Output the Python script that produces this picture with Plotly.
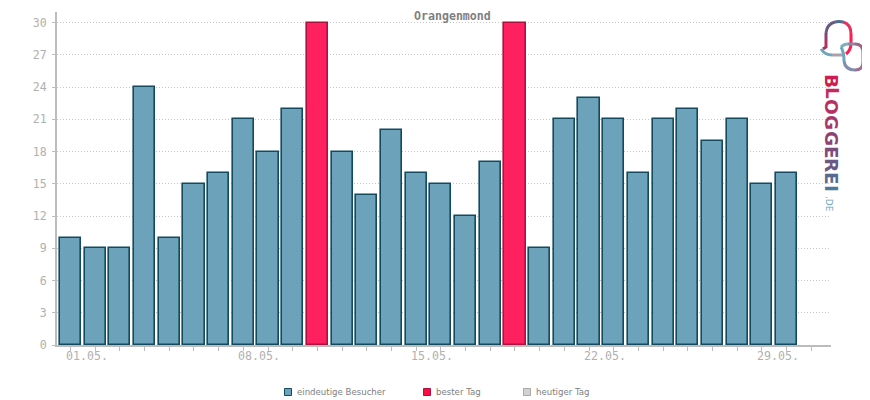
import plotly.graph_objects as go

# Besucher pro Tag
tage = list(range(30))
besucher = [10, 9, 9, 24, 10, 15, 16, 21, 18, 22, 30, 18, 14, 20, 16,
            15, 12, 17, 30, 9, 21, 23, 21, 16, 21, 22, 19, 21, 15, 16]
bester_wert = 30
y_ticks = [0, 3, 6, 9, 12, 15, 18, 21, 24, 27, 30]
x_ticks = list(range(31))
x_label_pos = [0, 7, 14, 21, 28]
x_labels = ["01.05.", "08.05.", "15.05.", "22.05.", "29.05."]
legende = ["eindeutige Besucher", "bester Tag", "heutiger Tag"]

BLAU = "#6ca3bb"
BLAU_RAND = "#134a5e"
ROT = "#ff2060"
ROT_RAND = "#b01040"
GRAU = "#bcbcbc"
TEXT_GRAU = "#b0b0b0"
MONO = "DejaVu Sans Mono"

# die Seite hat 8px Rand, alle Masse unten sind Seiten-Pixel
RAND = 8
W, H = 870 - RAND, 400 - RAND
LINKS, RECHTS, OBEN, UNTEN = 57, 831, 12, 345


def px(x):
    return (x - LINKS) / (RECHTS - LINKS)


def py(y):
    return (UNTEN - y) / (UNTEN - OBEN)


def pfad(punkte):
    # punkte: (x, y) Start, danach (cx, cy, x, y) fuer Kurven oder (x, y) fuer Linien
    teile = [f"M {px(punkte[0][0]):.5f} {py(punkte[0][1]):.5f}"]
    for p in punkte[1:]:
        if len(p) == 2:
            teile.append(f"L {px(p[0]):.5f} {py(p[1]):.5f}")
        else:
            teile.append(f"Q {px(p[0]):.5f} {py(p[1]):.5f} {px(p[2]):.5f} {py(p[3]):.5f}")
    return " ".join(teile)


farben = [ROT if v == bester_wert else BLAU for v in besucher]
raender = [ROT_RAND if v == bester_wert else BLAU_RAND for v in besucher]

fig = go.Figure()
fig.add_trace(go.Bar(x=tage, y=besucher, width=0.855,
                     marker=dict(color=farben, line=dict(color=raender, width=1.6))))

annotations = [dict(x=v, y=0, xref="x", yref="paper", text=t, showarrow=False,
                    xanchor="center", yanchor="middle",
                    xshift=16, yshift=-11, font=dict(family=MONO, size=11.6, color=TEXT_GRAU))
               for v, t in zip(x_label_pos, x_labels)]

# Legende von Hand, die Kaestchen sind viel kleiner als bei Plotly
shapes = []
leg_x = [284, 423, 523]
leg_fill = [BLAU, "#ff0a40", "#d2d2d2"]
leg_rand = [BLAU_RAND, "#b01040", "#a8a8a8"]
for x0, name, f, r in zip(leg_x, legende, leg_fill, leg_rand):
    shapes.append(dict(type="rect", xref="paper", yref="paper", x0=px(x0 + 0.5), x1=px(x0 + 7.5),
                       y0=py(395.5), y1=py(388.5), fillcolor=f, line=dict(color=r, width=1)))
    annotations.append(dict(x=px(x0 + 12), y=py(392), xref="paper", yref="paper", text=name,
                            showarrow=False, xanchor="left", yanchor="middle", xshift=-1,
                            font=dict(family="DejaVu Sans", size=8.6, color="#808080")))

# Logo rechts oben, Farbverlauf in Stuecken
logo = [
    ([(846, 54), (851, 50, 851, 43), (851, 34)], "#ff1a50"),
    ([(851, 34), (851, 24, 843, 22)], "#e83060"),
    ([(843, 22), (839, 21, 835, 22)], "#4f6a8f"),
    ([(835, 22), (827, 24, 826, 33)], "#6a5885"),
    ([(826, 33), (826, 40)], "#8f3e70"),
    ([(826, 40), (826, 47), (823, 49)], "#b03060"),
    ([(821, 49), (825, 55, 832, 55)], "#6fa5bd"),
    ([(832, 55), (845, 55)], "#a9a0b0"),
    ([(841, 47), (844, 44, 848, 44)], "#7fb0c6"),
    ([(848, 44), (855, 44)], "#8a8aa5"),
    ([(855, 44), (863, 44, 863, 53)], "#a06688"),
    ([(863, 53), (863, 62)], "#a85f85"),
    ([(863, 62), (863, 70, 855, 70)], "#a06c90"),
    ([(855, 70), (845, 70, 844, 61)], "#7f8fab"),
    ([(844, 61), (844, 52, 841, 47)], "#6fa5bd"),
]
for punkte, farbe in logo:
    shapes.append(dict(type="path", xref="paper", yref="paper", path=pfad(punkte),
                       line=dict(color=farbe, width=3)))

schrift = list(zip("BLOGGEREI", [81, 93, 107, 122, 138, 152, 165, 178, 188],
                   ["#d01c50", "#c8285a", "#b83062", "#a8386a", "#8f4272",
                    "#7c4c7c", "#6a5885", "#586a90", "#4a7a9c"]))
for buchstabe, y, farbe in schrift:
    annotations.append(dict(x=px(832), y=py(y), xref="paper", yref="paper", text=buchstabe,
                            textangle=90, showarrow=False, xanchor="center", yanchor="middle",
                            font=dict(family="DejaVu Sans", size=18.5, color=farbe, weight="bold")))
annotations.append(dict(x=px(829), y=py(204), xref="paper", yref="paper", text=".DE", textangle=90,
                        showarrow=False, xanchor="center", yanchor="middle",
                        font=dict(family="DejaVu Sans", size=9, color="#6fa5bd")))
annotations.append(dict(x=px(452), y=py(15.5), xref="paper", yref="paper", text="Orangenmond",
                        showarrow=False, xanchor="center", yanchor="middle",
                        font=dict(family=MONO, size=11.6, color="#808080", weight="bold")))

fig.update_layout(
    width=W, height=H, autosize=False,
    margin=dict(l=LINKS - RAND, r=W - (RECHTS - RAND), t=OBEN - RAND, b=H - (UNTEN - RAND), pad=0),
    paper_bgcolor="white", plot_bgcolor="white",
    showlegend=False, bargap=0,
    shapes=shapes, annotations=annotations,
    xaxis=dict(range=[-0.547, 30.8], tickmode="array", tickvals=x_ticks, ticktext=[""] * len(x_ticks),
               ticks="outside", ticklen=4, tickcolor=GRAU, tickwidth=1,
               showline=True, linecolor=GRAU, linewidth=2, showgrid=False, zeroline=False),
    yaxis=dict(range=[0, 31], tickmode="array", tickvals=y_ticks,
               ticks="outside", ticklen=3, tickcolor=GRAU, tickwidth=1, ticklabelstandoff=3,
               tickfont=dict(family=MONO, size=11.6, color=TEXT_GRAU),
               showline=True, linecolor=GRAU, linewidth=2,
               showgrid=True, gridcolor="#c4c4c4", griddash="1px,2px", gridwidth=1, zeroline=False),
)

fig.write_html("out.html")
